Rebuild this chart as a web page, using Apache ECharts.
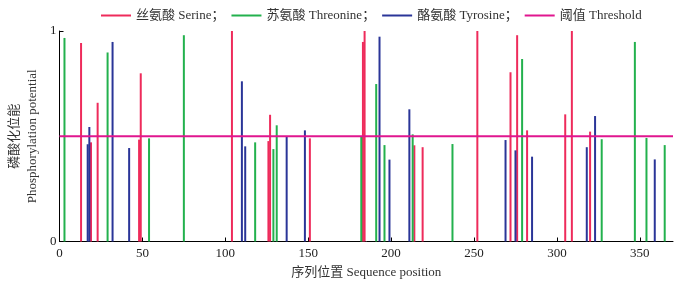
<!DOCTYPE html>
<html>
<head>
<meta charset="utf-8">
<script src="https://cdn.jsdelivr.net/npm/echarts@6/dist/echarts.min.js"></script>
<style>
  html, body { margin: 0; padding: 0; background: #fff; }
  #chart { width: 681px; height: 284px; }
</style>
</head>
<body>
<div id="chart"></div>
<script>
const serinePos = [13, 19, 23, 48, 49, 104, 126, 127, 151, 183, 184, 214, 219, 252, 272, 276, 282, 305, 309, 320];
const serineVal = [0.943, 0.471, 0.659, 0.484, 0.799, 1.0, 0.477, 0.602, 0.49, 0.948, 1.0, 0.457, 0.448, 1.0, 0.804, 0.98, 0.528, 0.604, 1.0, 0.522];

const threoninePos = [3, 29, 54, 75, 118, 129, 131, 182, 191, 196, 213, 237, 279, 327, 347, 354, 365];
const threonineVal = [0.967, 0.898, 0.49, 0.98, 0.471, 0.439, 0.552, 0.498, 0.748, 0.458, 0.509, 0.463, 0.867, 0.486, 0.948, 0.492, 0.458];

const tyrosinePos = [17, 18, 32, 42, 110, 112, 137, 148, 193, 199, 211, 269, 275, 285, 318, 323, 359];
const tyrosineVal = [0.462, 0.544, 0.948, 0.444, 0.761, 0.452, 0.498, 0.528, 0.973, 0.389, 0.628, 0.482, 0.433, 0.403, 0.448, 0.596, 0.39];

const threshold = 0.5;

const font = "'Liberation Serif', 'Noto Sans CJK SC', serif";
const zip = (xs, ys) => xs.map((x, i) => [x, ys[i]]);

const chart = echarts.init(document.getElementById("chart"));

// thin vertical sticks, positioned via the axes
const stickSeries = (name, pos, val, color) => ({
  name,
  type: "custom",
  data: zip(pos, val),
  encode: { x: 0, y: 1 },
  itemStyle: { color },
  renderItem: (params, api) => {
    const top = api.coord([api.value(0), api.value(1)]);
    const base = api.coord([api.value(0), 0]);
    return {
      type: "rect",
      shape: { x: top[0] - 1, y: top[1], width: 2, height: base[1] - top[1] },
      style: { fill: color },
    };
  },
});

chart.setOption({
  animation: false,
  textStyle: { fontFamily: font, color: "#222" },
  legend: {
    top: 4,
    left: 96,
    itemWidth: 30,
    itemHeight: 2,
    itemGap: 7,
    icon: "rect",
    textStyle: { fontFamily: font, fontSize: 13, color: "#333" },
    data: [
      { name: "丝氨酸 Serine；", itemStyle: { color: "#ee2b5b" } },
      { name: "苏氨酸 Threonine；", itemStyle: { color: "#23b14d" } },
      { name: "酪氨酸 Tyrosine；", itemStyle: { color: "#2a3598" } },
      { name: "阈值 Threshold", itemStyle: { color: "#e0168f" } },
    ],
  },
  grid: { left: 59.5, right: 8, top: 31, bottom: 42.5, containLabel: false, outerBoundsMode: "none" },
  xAxis: {
    type: "value",
    min: 0,
    max: 370,
    interval: 50,
    name: "序列位置 Sequence position",
    nameLocation: "middle",
    nameGap: 25,
    nameTextStyle: { fontFamily: font, fontSize: 13, color: "#333" },
    axisLine: { lineStyle: { color: "#000", width: 1 } },
    axisTick: { inside: true, length: 4, lineStyle: { color: "#000" } },
    axisLabel: { fontFamily: font, fontSize: 13, color: "#222", margin: 6, showMaxLabel: false },
    splitLine: { show: false },
  },
  yAxis: {
    type: "value",
    min: 0,
    max: 1,
    interval: 1,
    name: "磷酸化位能\nPhosphorylation potential",
    nameLocation: "middle",
    nameGap: 18,
    nameRotate: 90,
    nameMoveOverlap: false,
    nameTextStyle: { fontFamily: font, fontSize: 13, color: "#333", lineHeight: 18 },
    axisLine: { show: true, lineStyle: { color: "#000", width: 1 } },
    axisTick: { show: true, inside: true, length: 4, lineStyle: { color: "#000" } },
    axisLabel: { fontFamily: font, fontSize: 13, color: "#222", margin: 3 },
    splitLine: { show: false },
  },
  series: [
    stickSeries("丝氨酸 Serine；", serinePos, serineVal, "#ee2b5b"),
    stickSeries("苏氨酸 Threonine；", threoninePos, threonineVal, "#23b14d"),
    stickSeries("酪氨酸 Tyrosine；", tyrosinePos, tyrosineVal, "#2a3598"),
    {
      name: "阈值 Threshold",
      type: "line",
      data: [[0, threshold], [370, threshold]],
      symbol: "none",
      lineStyle: { color: "#e0168f", width: 2 },
      itemStyle: { color: "#e0168f" },
      z: 5,
    },
  ],
});
</script>
</body>
</html>
